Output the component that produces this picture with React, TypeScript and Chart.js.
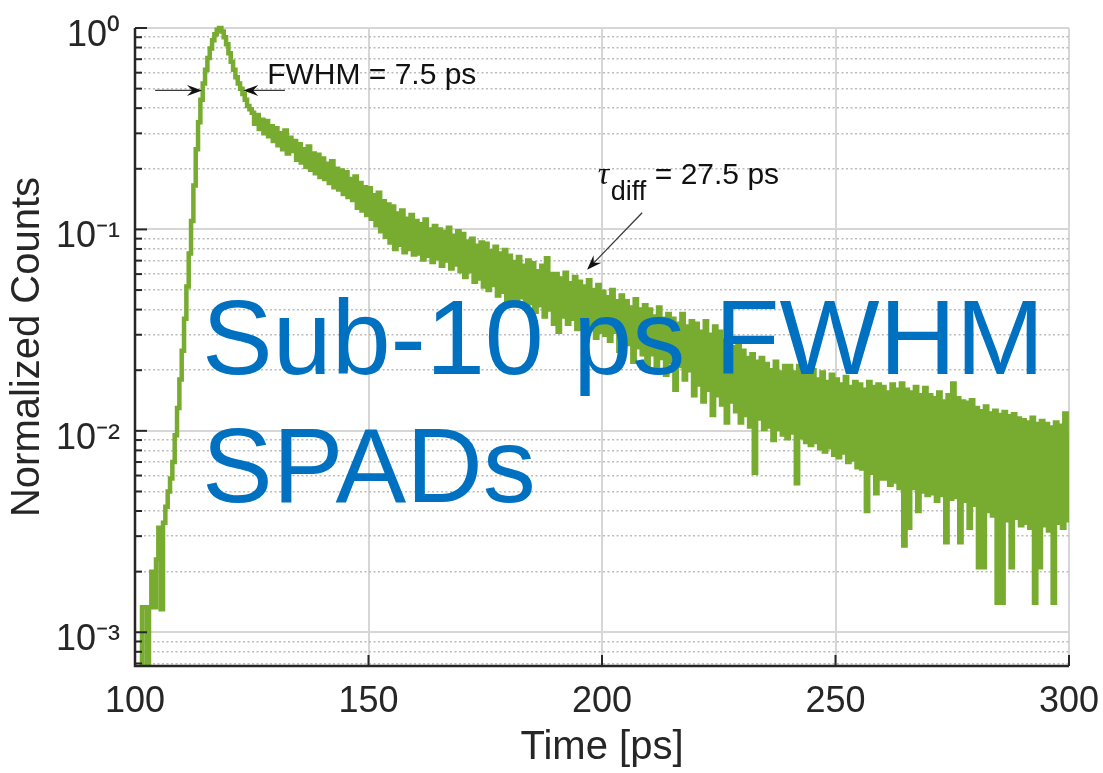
import React, { useEffect, useRef } from 'react';
import { Chart, registerables } from 'chart.js';

Chart.register(...registerables);

// ---- data ----
const timeStart = 100; // ps, first sample
const timeStep = 0.5; // ps between samples
const normalizedCounts = [
  0.0003, 0.0003, 0.0003, 0.00133, 0.00133, 0.0004, 0.00133, 0.002, 0.00133, 0.0023,
  0.0033, 0.0013, 0.0035, 0.0042, 0.005, 0.0058, 0.007, 0.0095, 0.013, 0.018,
  0.025, 0.036, 0.052, 0.076, 0.11, 0.165, 0.25, 0.34, 0.44, 0.53,
  0.62, 0.71, 0.79, 0.87, 0.93, 0.98, 1.0, 0.96, 0.9, 0.83,
  0.75, 0.68, 0.62, 0.57, 0.53, 0.5, 0.47, 0.44, 0.41, 0.395,
  0.38, 0.335, 0.37, 0.315, 0.35, 0.3, 0.345, 0.29, 0.325, 0.275,
  0.318, 0.262, 0.3, 0.25, 0.31, 0.238, 0.285, 0.245, 0.275, 0.222,
  0.265, 0.215, 0.25, 0.205, 0.258, 0.198, 0.238, 0.19, 0.235, 0.182,
  0.225, 0.178, 0.212, 0.17, 0.218, 0.162, 0.2, 0.158, 0.196, 0.15,
  0.192, 0.145, 0.178, 0.14, 0.183, 0.128, 0.17, 0.124, 0.162, 0.118,
  0.16, 0.113, 0.148, 0.105, 0.152, 0.098, 0.138, 0.092, 0.133, 0.086,
  0.13, 0.08, 0.12, 0.084, 0.124, 0.077, 0.113, 0.08, 0.118, 0.075,
  0.11, 0.076, 0.106, 0.071, 0.112, 0.074, 0.1, 0.069, 0.104, 0.072,
  0.1, 0.066, 0.097, 0.07, 0.102, 0.064, 0.093, 0.067, 0.098, 0.062,
  0.095, 0.058, 0.087, 0.062, 0.09, 0.055, 0.083, 0.057, 0.086, 0.052,
  0.085, 0.05, 0.078, 0.053, 0.082, 0.047, 0.076, 0.049, 0.079, 0.044,
  0.074, 0.045, 0.069, 0.042, 0.073, 0.046, 0.066, 0.041, 0.07, 0.043,
  0.068, 0.039, 0.062, 0.042, 0.066, 0.037, 0.072, 0.04, 0.06, 0.034,
  0.06, 0.031, 0.057, 0.037, 0.061, 0.034, 0.054, 0.036, 0.058, 0.032,
  0.055, 0.034, 0.052, 0.031, 0.056, 0.033, 0.05, 0.029, 0.053, 0.031,
  0.049, 0.03, 0.046, 0.028, 0.05, 0.031, 0.044, 0.025, 0.047, 0.028,
  0.044, 0.027, 0.041, 0.022, 0.045, 0.026, 0.04, 0.024, 0.042, 0.021,
  0.04, 0.024, 0.037, 0.02, 0.041, 0.023, 0.036, 0.019, 0.038, 0.022,
  0.036, 0.016, 0.034, 0.021, 0.038, 0.018, 0.033, 0.02, 0.035, 0.015,
  0.034, 0.017, 0.031, 0.014, 0.035, 0.016, 0.03, 0.012, 0.033, 0.015,
  0.031, 0.0135, 0.028, 0.011, 0.03, 0.014, 0.026, 0.0125, 0.027, 0.011,
  0.025, 0.012, 0.023, 0.0105, 0.024, 0.0062, 0.022, 0.0115, 0.023, 0.0102,
  0.0215, 0.0105, 0.02, 0.009, 0.022, 0.0102, 0.0195, 0.0096, 0.021, 0.0092,
  0.021, 0.0098, 0.0195, 0.0055, 0.021, 0.0093, 0.019, 0.0088, 0.0205, 0.0085,
  0.02, 0.0088, 0.018, 0.0082, 0.0195, 0.0079, 0.0175, 0.0083, 0.019, 0.0076,
  0.018, 0.0074, 0.017, 0.0078, 0.0185, 0.007, 0.0165, 0.0072, 0.0175, 0.0066,
  0.017, 0.0065, 0.016, 0.004, 0.0175, 0.0062, 0.0165, 0.0049, 0.017, 0.0058,
  0.0165, 0.0058, 0.0155, 0.0054, 0.017, 0.0056, 0.016, 0.0052, 0.0172, 0.0027,
  0.016, 0.0033, 0.0155, 0.0052, 0.0165, 0.004, 0.015, 0.005, 0.0163, 0.0048,
  0.015, 0.0049, 0.0145, 0.0045, 0.0155, 0.0048, 0.014, 0.0028, 0.015, 0.0046,
  0.0172, 0.0047, 0.0145, 0.0028, 0.014, 0.0045, 0.0138, 0.0033, 0.0142, 0.0043,
  0.013, 0.0021, 0.0125, 0.0021, 0.0132, 0.004, 0.0122, 0.0038, 0.0126, 0.0014,
  0.012, 0.0014, 0.0124, 0.0036, 0.0118, 0.0021, 0.0121, 0.0037, 0.0115, 0.0034,
  0.0113, 0.0035, 0.011, 0.0033, 0.0116, 0.0014, 0.0108, 0.0021, 0.0112, 0.0034,
  0.0108, 0.0032, 0.0104, 0.0014, 0.011, 0.0035, 0.0106, 0.0033, 0.0122, 0.0036,
  0.0098,
];

const xTickValues = [100, 150, 200, 250, 300];
const yDecades = [1, 0.1, 0.01, 0.001];
const yDecadeLabels = ['10⁰', '10⁻¹', '10⁻²', '10⁻³'];
const xRange = [100, 300];
const yRange = [0.00068, 1];

const xTitle = 'Time [ps]';
const yTitle = 'Normalized Counts';
const fwhmText = 'FWHM = 7.5 ps';
const tauSymbol = 'τ';
const tauSub = 'diff';
const tauValueText = '= 27.5 ps';
const overlayLines = ['Sub-10 ps FWHM', 'SPADs'];

// annotation anchors in data units
const fwhmLevel = 0.49;
const fwhmLeftArrow = [104.3, 114.35];
const fwhmRightArrow = [132.1, 123.2];
const fwhmTextAnchor = { x: 128.3, y: 0.527 };
const tauArrowTail = { x: 208.6, y: 0.121 };
const tauArrowTip = { x: 196.8, y: 0.063 };
const tauTextAnchor = { x: 199.1, y: 0.168 };

const FONT = '"Liberation Sans", Arial, Helvetica, sans-serif';
const GREEN = '#77AC30';
const BLUE = '#0070C0';
const AXIS = '#262626';

const isDecade = (v?: number) =>
  v != null && v > 0 && Math.abs(Math.log10(v) - Math.round(Math.log10(v))) < 1e-6;

function drawArrow(ctx: CanvasRenderingContext2D, x1: number, y1: number, x2: number, y2: number) {
  const headLen = 15;
  const headHalf = 5.5;
  const ang = Math.atan2(y2 - y1, x2 - x1);
  const c = Math.cos(ang);
  const s = Math.sin(ang);
  ctx.beginPath();
  ctx.moveTo(x1, y1);
  ctx.lineTo(x2 - c * headLen * 0.6, y2 - s * headLen * 0.6);
  ctx.stroke();
  const bx = x2 - c * headLen;
  const by = y2 - s * headLen;
  const nx = -s;
  const ny = c;
  ctx.beginPath();
  ctx.moveTo(x2, y2);
  ctx.lineTo(bx + nx * headHalf, by + ny * headHalf);
  ctx.lineTo(x2 - c * headLen * 0.65, y2 - s * headLen * 0.65);
  ctx.lineTo(bx - nx * headHalf, by - ny * headHalf);
  ctx.closePath();
  ctx.fill();
}

const overlayPlugin = {
  id: 'overlayPlugin',
  afterDraw(chart: any) {
    const { ctx, chartArea: a, scales } = chart;
    const x = scales.x;
    const y = scales.y;
    ctx.save();

    // axis lines and inward ticks
    ctx.strokeStyle = AXIS;
    ctx.lineWidth = 2.5;
    ctx.beginPath();
    ctx.moveTo(a.left, a.top);
    ctx.lineTo(a.left, a.bottom);
    ctx.lineTo(a.right, a.bottom);
    ctx.stroke();
    ctx.lineWidth = 2;
    y.ticks.forEach((t: any) => {
      const py = y.getPixelForValue(t.value);
      const len = isDecade(t.value) ? 12 : 7;
      ctx.beginPath();
      ctx.moveTo(a.left, py);
      ctx.lineTo(a.left + len, py);
      ctx.stroke();
    });
    xTickValues.forEach((v) => {
      const px = x.getPixelForValue(v);
      ctx.beginPath();
      ctx.moveTo(px, a.bottom);
      ctx.lineTo(px, a.bottom - 11);
      ctx.stroke();
    });

    // FWHM arrows
    ctx.strokeStyle = '#3a3a3a';
    ctx.fillStyle = '#111';
    ctx.lineWidth = 1.3;
    const fy = y.getPixelForValue(fwhmLevel);
    drawArrow(ctx, x.getPixelForValue(fwhmLeftArrow[0]), fy, x.getPixelForValue(fwhmLeftArrow[1]), fy);
    drawArrow(ctx, x.getPixelForValue(fwhmRightArrow[0]), fy, x.getPixelForValue(fwhmRightArrow[1]), fy);
    ctx.fillStyle = '#111';
    ctx.font = `30px ${FONT}`;
    ctx.textBaseline = 'alphabetic';
    ctx.textAlign = 'left';
    ctx.fillText(fwhmText, x.getPixelForValue(fwhmTextAnchor.x), y.getPixelForValue(fwhmTextAnchor.y));

    // tau annotation
    drawArrow(
      ctx,
      x.getPixelForValue(tauArrowTail.x),
      y.getPixelForValue(tauArrowTail.y),
      x.getPixelForValue(tauArrowTip.x),
      y.getPixelForValue(tauArrowTip.y)
    );
    const tx = x.getPixelForValue(tauTextAnchor.x);
    const ty = y.getPixelForValue(tauTextAnchor.y);
    ctx.font = `italic 32px "Liberation Serif", "DejaVu Serif", serif`;
    ctx.fillText(tauSymbol, tx, ty);
    ctx.font = `27px ${FONT}`;
    ctx.fillText(tauSub, tx + 13, ty + 16);
    ctx.font = `30px ${FONT}`;
    ctx.fillText(tauValueText, tx + 57, ty);

    // big blue overlay text
    ctx.fillStyle = BLUE;
    ctx.font = `106px ${FONT}`;
    ctx.fillText(overlayLines[0], a.left + 67, a.top + 346);
    ctx.fillText(overlayLines[1], a.left + 67, a.top + 474);
    ctx.restore();
  },
};

export default function App() {
  const canvasRef = useRef<HTMLCanvasElement | null>(null);

  useEffect(() => {
    const canvas = canvasRef.current;
    if (!canvas) return;
    Chart.defaults.font.family = FONT;
    const points = normalizedCounts.map((v, i) => ({ x: timeStart + i * timeStep, y: v }));

    const chart = new Chart(canvas, {
      type: 'line',
      data: {
        datasets: [
          {
            data: points,
            borderColor: GREEN,
            backgroundColor: GREEN,
            borderWidth: 4.5,
            pointRadius: 0,
            stepped: true,
            fill: false,
            tension: 0,
            borderJoinStyle: 'miter',
            clip: { left: 0, top: 4, right: 0, bottom: 0 },
          } as any,
        ],
      },
      options: {
        animation: false,
        responsive: false,
        devicePixelRatio: 1,
        layout: { padding: { top: 28, right: 34, left: 0, bottom: 0 } },
        plugins: { legend: { display: false }, tooltip: { enabled: false } },
        scales: {
          x: {
            type: 'linear',
            min: xRange[0],
            max: xRange[1],
            afterBuildTicks: (scale: any) => {
              scale.ticks = xTickValues.map((v) => ({ value: v }));
            },
            afterFit: (scale: any) => {
              scale.height = 107;
              scale.paddingLeft = 0;
              scale.paddingRight = 0;
              scale.paddingTop = 0;
              scale.paddingBottom = 0;
            },
            ticks: {
              color: AXIS,
              font: { size: 36, family: FONT },
              padding: 14,
              maxRotation: 0,
              autoSkip: false,
              callback: (v: any) => String(v),
            },
            grid: { color: '#d6d6d6', lineWidth: 2, drawTicks: false },
            border: { display: false },
            title: {
              display: true,
              text: xTitle,
              color: AXIS,
              font: { size: 40, family: FONT },
              padding: { top: 0, bottom: 1 },
            },
          },
          y: {
            type: 'logarithmic',
            min: yRange[0],
            max: yRange[1],
            afterBuildTicks: (scale: any) => {
              const ticks: any[] = [];
              for (let e = -4; e <= 0; e++) {
                for (let m = 1; m <= 9; m++) {
                  const v = m * Math.pow(10, e);
                  if (v >= yRange[0] && v <= yRange[1] * 1.0000001) ticks.push({ value: v, major: m === 1 });
                }
              }
              scale.ticks = ticks;
            },
            afterFit: (scale: any) => {
              scale.width = 135;
              scale.paddingLeft = 0;
              scale.paddingRight = 0;
              scale.paddingTop = 0;
              scale.paddingBottom = 0;
            },
            ticks: {
              color: AXIS,
              font: { size: 36, family: FONT },
              padding: 15,
              labelOffset: 8,
              autoSkip: false,
              callback: (v: any) => {
                const i = yDecades.findIndex((d) => Math.abs(d - v) / d < 1e-6);
                return i >= 0 ? yDecadeLabels[i] : '';
              },
            },
            grid: {
              color: (c: any) => (isDecade(c.tick?.value) ? '#d6d6d6' : '#bcbcbc'),
              lineWidth: (c: any) => (isDecade(c.tick?.value) ? 2 : 1.5),
              drawTicks: false,
            },
            border: {
              display: false,
              dash: (c: any) => (c.tick && !isDecade(c.tick.value) ? [2, 2.5] : []),
            } as any,
            title: {
              display: true,
              text: yTitle,
              color: AXIS,
              font: { size: 40, family: FONT },
              padding: { top: 4, bottom: 0 },
            },
          },
        },
      },
      plugins: [overlayPlugin],
    });
    return () => chart.destroy();
  }, []);

  return (
    <div style={{ position: 'absolute', left: 0, top: 0, width: 1103, height: 773, background: '#fff' }}>
      <canvas ref={canvasRef} width={1103} height={773} style={{ display: 'block' }} />
    </div>
  );
}
